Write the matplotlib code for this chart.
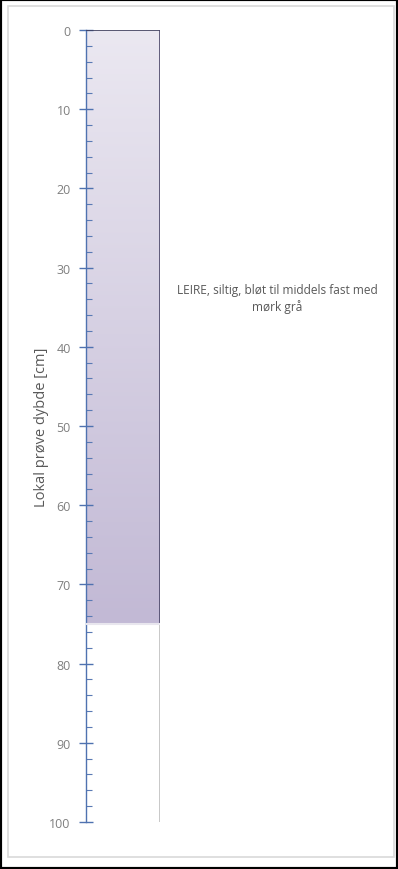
import matplotlib.pyplot as plt
import numpy as np
from matplotlib.colors import LinearSegmentedColormap
from matplotlib.patches import Rectangle

# --- Data ---
layer_top = [0]
layer_bottom = [75]
layer_text = ['LEIRE, siltig, bløt til middels fast med\nmørk grå']
depth_max = 100
major_ticks = list(range(0, 101, 10))
minor_ticks = list(range(0, 101, 2))

plt.rcParams['font.family'] = ['Open Sans', 'DejaVu Sans']

fig = plt.figure(figsize=(3.98, 8.70), dpi=100)
W, H = 398, 870

# outer frame and inner light frame
fig.patches.append(Rectangle((0, 0), 1, 1, transform=fig.transFigure, fill=False,
                             edgecolor='black', linewidth=3, zorder=0))
fig.patches.append(Rectangle((8 / W, 12 / H), 386 / W, 851 / H, transform=fig.transFigure,
                             fill=False, edgecolor='#d9d9d9', linewidth=1.2, zorder=0))

ax = fig.add_axes([86 / W, 1 - 823 / H, 74 / W, 792 / H])
ax.set_xlim(0, 1)
ax.set_ylim(depth_max, 0)

# gradient fill for each layer
cmap = LinearSegmentedColormap.from_list('lay', ['#ebe8f1', '#c2b9d5'])
grad = np.linspace(0, 1, 256).reshape(-1, 1)
for top, bot, txt in zip(layer_top, layer_bottom, layer_text):
    ax.imshow(grad, cmap=cmap, aspect='auto', extent=(0, 1, bot, top), zorder=1)
    ax.plot([0, 1], [top, top], color='#3e3e5c', linewidth=1.2, zorder=3)
    ax.plot([1, 1], [top, bot], color='#4a4668', linewidth=1.2, zorder=3)
    ax.plot([0, 1], [bot, bot], color='#e8e6ee', linewidth=1.5, zorder=3)
    fig.text(277 / W, 1 - 299 / H, txt, ha='center', va='center',
             fontsize=8.6, color='#595959', linespacing=1.35)

ax.plot([1, 1], [layer_bottom[-1], depth_max], color='#bfbfbf', linewidth=1.2, zorder=2)

for s in ['top', 'right', 'bottom']:
    ax.spines[s].set_visible(False)
ax.spines['left'].set_color('#4f72b0')
ax.spines['left'].set_linewidth(1.0)
ax.patch.set_visible(False)

ax.set_xticks([])
ax.set_yticks(major_ticks)
ax.set_yticks(minor_ticks, minor=True)
ax.tick_params(axis='y', which='major', direction='inout', length=10, width=1.0,
               color='#4f72b0', labelcolor='#7f7f7f', labelsize=9, pad=6)
ax.tick_params(axis='y', which='minor', direction='in', length=4, width=0.8,
               color='#5a7ab4')
ax.set_ylabel('Lokal prøve dybde [cm]', fontsize=10.5, color='#595959')
ax.yaxis.set_label_coords(-0.5, 0.5)

fig.savefig('out.png', dpi=100)
